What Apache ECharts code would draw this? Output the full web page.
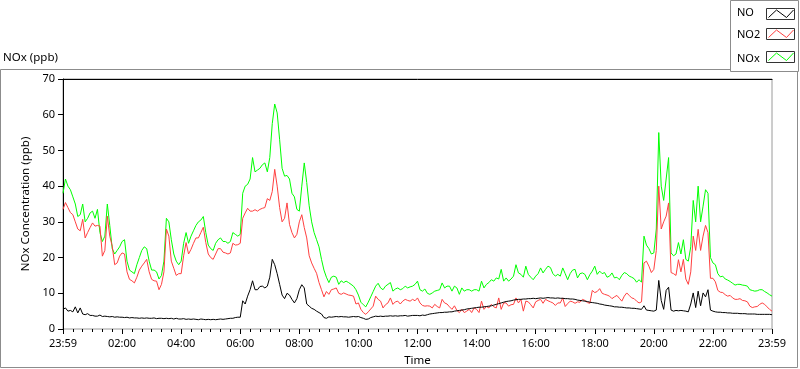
<!DOCTYPE html>
<html><head><meta charset="utf-8">
<script src="https://cdn.jsdelivr.net/npm/echarts/dist/echarts.min.js"></script>
<style>html,body{margin:0;padding:0;background:#fff}#c{width:800px;height:369px}</style>
</head><body><div id="c"></div>
<script>
// minutes between samples, starting at 23:59
const STEP_MIN = 5;
const X_TICK_LABELS = ['23:59','02:00','04:00','06:00','08:00','10:00','12:00','14:00','16:00','18:00','20:00','22:00','23:59'];
const SERIES_NAMES = ['NO','NO2','NOx'];

const NO = [
5.5,5.9,5,5.2,4.8,6.2,4.5,5.9,4.2,4,4.3,3.8,
3.8,3.6,3.6,3.9,3.5,3.6,3.5,3.4,3.5,3.3,3.4,3.3,
3.3,3.2,3.3,3.1,3.2,3.1,3.1,3,3.1,3,3.1,3,
3,3.1,2.9,3,3,2.9,3,2.9,3,2.8,3,2.8,
2.8,2.9,2.7,2.8,2.7,2.8,2.7,2.6,2.8,2.7,2.6,2.7,
2.6,2.7,2.6,2.7,2.8,2.7,2.8,2.9,3,3,3.2,3.3,
3.3,7.9,7,9.2,11,13.5,11,11,11.9,12,11.5,12,
14.5,19.5,18,15.5,12.5,9.5,8.5,10,9.5,8.3,7.3,8.5,
11,12.4,11.5,7,6.4,5.8,5.5,5,4.6,4.2,3.2,3,
3.4,3.3,3.4,3.5,3.4,3.5,3.4,3.4,3.3,3.4,3.5,3.4,
3.5,3.2,3,2.7,2.8,3.2,3.4,3.6,3.5,3.6,3.5,3.6,
3.6,3.7,3.6,3.7,3.6,3.7,3.7,3.8,3.6,3.7,3.8,3.8,
3.8,3.7,3.9,3.8,4,4.2,4.3,4.4,4.5,4.6,4.6,4.7,
4.7,4.8,4.8,5,5.1,5.2,5.3,5.4,5.6,5.7,5.8,5.9,
6,6.1,6.1,6.2,6.3,6.4,6.5,6.7,6.9,7.1,7.3,7.5,
7.7,7.8,7.9,8.1,8.2,8.3,8.3,8.4,8.4,8.5,8.5,8.6,
8.5,8.6,8.7,8.6,8.7,8.8,8.7,8.7,8.6,8.7,8.6,8.6,
8.5,8.5,8.4,8.4,8.3,8.1,8,7.9,7.8,7.7,7.5,7.4,
7.3,7.2,7,6.9,6.7,6.6,6.5,6.4,6.2,6.2,6.1,6.1,
6,5.9,5.9,5.8,5.8,5.7,5.6,5.5,6.5,5.3,5.2,5.1,
5,5.3,13.6,8,5.5,10.8,11.7,5.3,5,5.2,5.1,5.2,
5.1,5,4.8,7,10.1,6,10.6,6.5,10.1,9,11,5.3,
5,4.8,4.7,4.7,4.6,4.6,4.5,4.5,4.4,4.4,4.4,4.3,
4.3,4.3,4.2,4.2,4.2,4.2,4.1,4.1,4.1,4.1,4.1,4.1,
4];

const NO2 = [
33.5,35.4,34,32.6,32,30,28,27.5,30.7,25.5,27,28.4,
29.7,28.8,29,28.8,20.4,22,31.6,26,23.2,18,18.5,20.4,
21.3,21,16,13.9,13.5,12.9,14.5,16.5,17.6,18.5,19.5,16,
13.9,13.5,13.4,11,12.5,16,28,26,19,17,15,15.5,
15.5,20.5,24.2,21,22.3,24,25.5,25.5,27,28.5,24.2,21,
20,19.5,21,22.5,22.5,21.5,21.3,21,21.3,24,23.5,23.6,
24,31,32.5,33.8,33,33,33.4,33,33.5,33.8,34,36.5,
36,38.5,44.7,40,34,30,31,35.3,29.3,27,25.5,26.5,
30,32,28.4,25.5,20.5,18.5,17,15.6,13,11,9,10.5,
9.7,11,11.2,11.5,10,9.7,10.1,9.8,9.5,9.4,9.2,7,
7.3,5.5,4.6,4.1,4.8,5.6,6.4,9.2,8.3,7.8,5.9,6.8,
7.3,8.7,6.9,7.6,7.8,7,7.8,8.3,8,7.8,8.3,7.9,
8.7,7.3,6.6,6.4,6.5,6.4,5.9,6.9,6.3,5.9,8.3,7.3,
7,6.2,5.5,6.5,5.2,4.6,5.5,4.6,5,5.5,4.6,5.9,
5.5,4.6,7.8,5.5,6.3,5.9,6.9,6.2,5.9,8.7,5.5,7.3,
7.3,6.4,6.8,6.9,8.7,7.3,8.3,5,7.8,7.6,6.8,5.9,
7.6,8,8.3,7.2,8.3,7.9,7.6,7.3,6.6,7.3,7.3,8.7,
6.3,7.1,7.8,7.6,7.2,7.6,7.5,8.3,8,7.4,7.2,10.8,
10.2,10.5,11.3,10,9.7,9.5,9.2,8.5,9,9.4,8.6,7.8,
9.2,10.1,9.4,8.7,8.5,7.8,7.3,7.6,18.5,19,17.6,15.8,
16.7,22,40,28,30,31.6,35.3,15.8,15.5,15,19.4,16,
19.5,14,12.5,16,26,22,27.9,22,26,29,27,14.2,
14.2,13.2,10.8,10.3,10.2,9.6,9.2,9.4,8.7,8.3,8.3,8.5,
8,7.9,7.6,6.4,6,6.2,6.3,6.9,7.3,6.9,6.2,5.5,
5];

const NOX = [
38,42,40,39,37,35,31.5,32,35,30,31,32.5,
33,31,33.5,27,24.5,26,35,29,22.5,21,22,23,
24.5,25,19,16.5,16,15.5,18,20,22,23,22.5,19,
16.5,16.5,16,14,15,19,31,30,25,21,19,18,
19,24,27,24,26,27.5,29,30,30.5,31.5,27,23.5,
22.5,22,24,25,25.5,24.5,24.5,24,24.5,27,26.5,26,
26.5,38,40,40.5,42,48,44,44.5,45,46,46.5,44,
48,57.5,63,60.5,53,45,42.8,43,42,38,37,33.5,
33,40,46.5,41,34.5,30,27,25,23,19.5,16.5,14.5,
13,14.5,14.8,14.5,12.5,13.5,13,13.4,13,12.5,12,11,
9.5,7.5,6.8,6.2,7.5,9,10.5,12,12.8,11.5,11,12,
12.5,13,10.6,11.2,11.5,11,11.3,12,11.5,11.8,12,12.5,
13.4,11,10.6,11.2,10,9.7,10.1,10.6,10.8,11,12.9,11.5,
12,12,10.6,12,11.5,9.7,11.5,10.6,11,11,10.6,11,
11,10.6,13.4,11.5,12.5,13,13.8,13.4,14.3,14,16.7,13.4,
14.3,13.4,14,14.8,18,15.7,15.3,14.5,17.6,15.3,14.5,13.8,
14.8,15.5,17.1,15.7,16.7,17.6,17.2,15.5,14.8,15.3,14.8,17.1,
15.5,13.8,15.5,16.5,16.7,14.3,15.5,15.7,15.3,13.8,15.2,16.2,
17.6,15.3,16.2,15.5,15.8,14.5,14.8,15.7,14.3,14.5,13.8,15,
15.8,15.5,14.8,14.5,14.1,13.1,13.8,13.1,26,23.5,22.5,21,
21.3,28,55,40,36,42,48,21.3,20.5,21,24.2,21,
25,19.5,19,23,36,30,40,30,34.4,39,38,20,
18.5,18,15.5,14.6,14.8,14,13.7,13.3,12.8,12.3,12.5,12.5,
12.3,12.2,12,11,10.8,10.6,10.7,11,11,10.5,10.1,9.6,
9.2];

const FONT = "'Noto Sans', 'DejaVu Sans', sans-serif";
const COLORS = {NO:'#000000', NO2:'#ff4040', NOx:'#00ff00'};
const toPairs = arr => arr.map((v, i) => [i * STEP_MIN, v]);

const chart = echarts.init(document.getElementById('c'), null, {renderer:'canvas'});

const legendTops = [6, 28, 52];
const boxTops = [8.5, 28.5, 51.5];
const graphics = [
  {type:'rect', shape:{x:0.5, y:69.5, width:797, height:298}, style:{fill:'none', stroke:'#8c8c8c', lineWidth:1}, silent:true, z:0},
  {type:'rect', shape:{x:730.5, y:0.5, width:68, height:71}, style:{fill:'#fff', stroke:'#8c8c8c', lineWidth:1}, silent:true, z:1}
];
SERIES_NAMES.forEach((n, k) => {
  const y = boxTops[k];
  graphics.push({type:'rect', shape:{x:766.5, y:y, width:28, height:11}, style:{fill:'#fff', stroke:'#333', lineWidth:1}, silent:true, z:2});
  graphics.push({type:'polyline', shape:{points:[[768.5,y+9],[776.5,y+1.5],[786.5,y+9],[793.5,y+1.5]]}, style:{fill:'none', stroke:COLORS[n], lineWidth:1}, silent:true, z:3});
});

chart.setOption({
  animation:false,
  backgroundColor:'#ffffff',
  textStyle:{fontFamily:FONT},
  title:{text:'NOx (ppb)', left:3, top:52, padding:0, textStyle:{fontSize:11.5, fontWeight:'normal', color:'#000', fontFamily:FONT}},
  legend: SERIES_NAMES.map((n, k) => ({
    data:[n], orient:'vertical', left:731, top:legendTops[k], padding:0,
    itemWidth:1, itemHeight:14, icon:'rect', selectedMode:false,
    itemStyle:{opacity:0}, lineStyle:{opacity:0},
    textStyle:{fontSize:11, color:'#000', fontFamily:FONT}
  })),
  graphic: graphics,
  grid:{left:63, right:28, top:79, bottom:40, containLabel:false, outerBoundsMode:'none',
        show:true, borderColor:'#9a9a9a', borderWidth:1, backgroundColor:'transparent'},
  xAxis:[{
    type:'value', min:0, max:1440, interval:120, offset:1,
    name:'Time', nameLocation:'middle', nameGap:25,
    nameTextStyle:{fontSize:11.5, color:'#000', fontFamily:FONT},
    axisLine:{show:false},
    axisTick:{show:true, length:5, lineStyle:{color:'#000'}},
    minorTick:{show:true, splitNumber:6, length:3, lineStyle:{color:'#000'}},
    splitLine:{show:false}, minorSplitLine:{show:false},
    axisLabel:{margin:8, fontSize:11, color:'#000', fontFamily:FONT, showMinLabel:true, showMaxLabel:true,
      formatter: v => X_TICK_LABELS[Math.round(v / 120)] || ''}
  },{
    type:'value', position:'top', min:0, max:1440,
    axisLine:{show:true, onZero:false, lineStyle:{color:'#000'}},
    axisTick:{show:false}, axisLabel:{show:false}, splitLine:{show:false}
  }],
  yAxis:{
    type:'value', min:0, max:70, interval:10,
    name:'NOx Concentration (ppb)', nameLocation:'middle', nameGap:24,
    nameTextStyle:{fontSize:11.5, color:'#000', fontFamily:FONT},
    axisLine:{show:true, lineStyle:{color:'#000'}},
    axisTick:{show:true, length:5, lineStyle:{color:'#000'}},
    splitLine:{show:false},
    axisLabel:{margin:8, fontSize:11, color:'#000', fontFamily:FONT}
  },
  series:[
    {name:'NOx', type:'line', data:toPairs(NOX), showSymbol:false, symbol:'none', color:COLORS.NOx, lineStyle:{width:1, color:COLORS.NOx}, z:2, silent:true},
    {name:'NO2', type:'line', data:toPairs(NO2), showSymbol:false, symbol:'none', color:COLORS.NO2, lineStyle:{width:1, color:COLORS.NO2}, z:3, silent:true},
    {name:'NO', type:'line', data:toPairs(NO), showSymbol:false, symbol:'none', color:COLORS.NO, lineStyle:{width:1, color:COLORS.NO}, z:4, silent:true}
  ]
});
</script>
</body></html>
